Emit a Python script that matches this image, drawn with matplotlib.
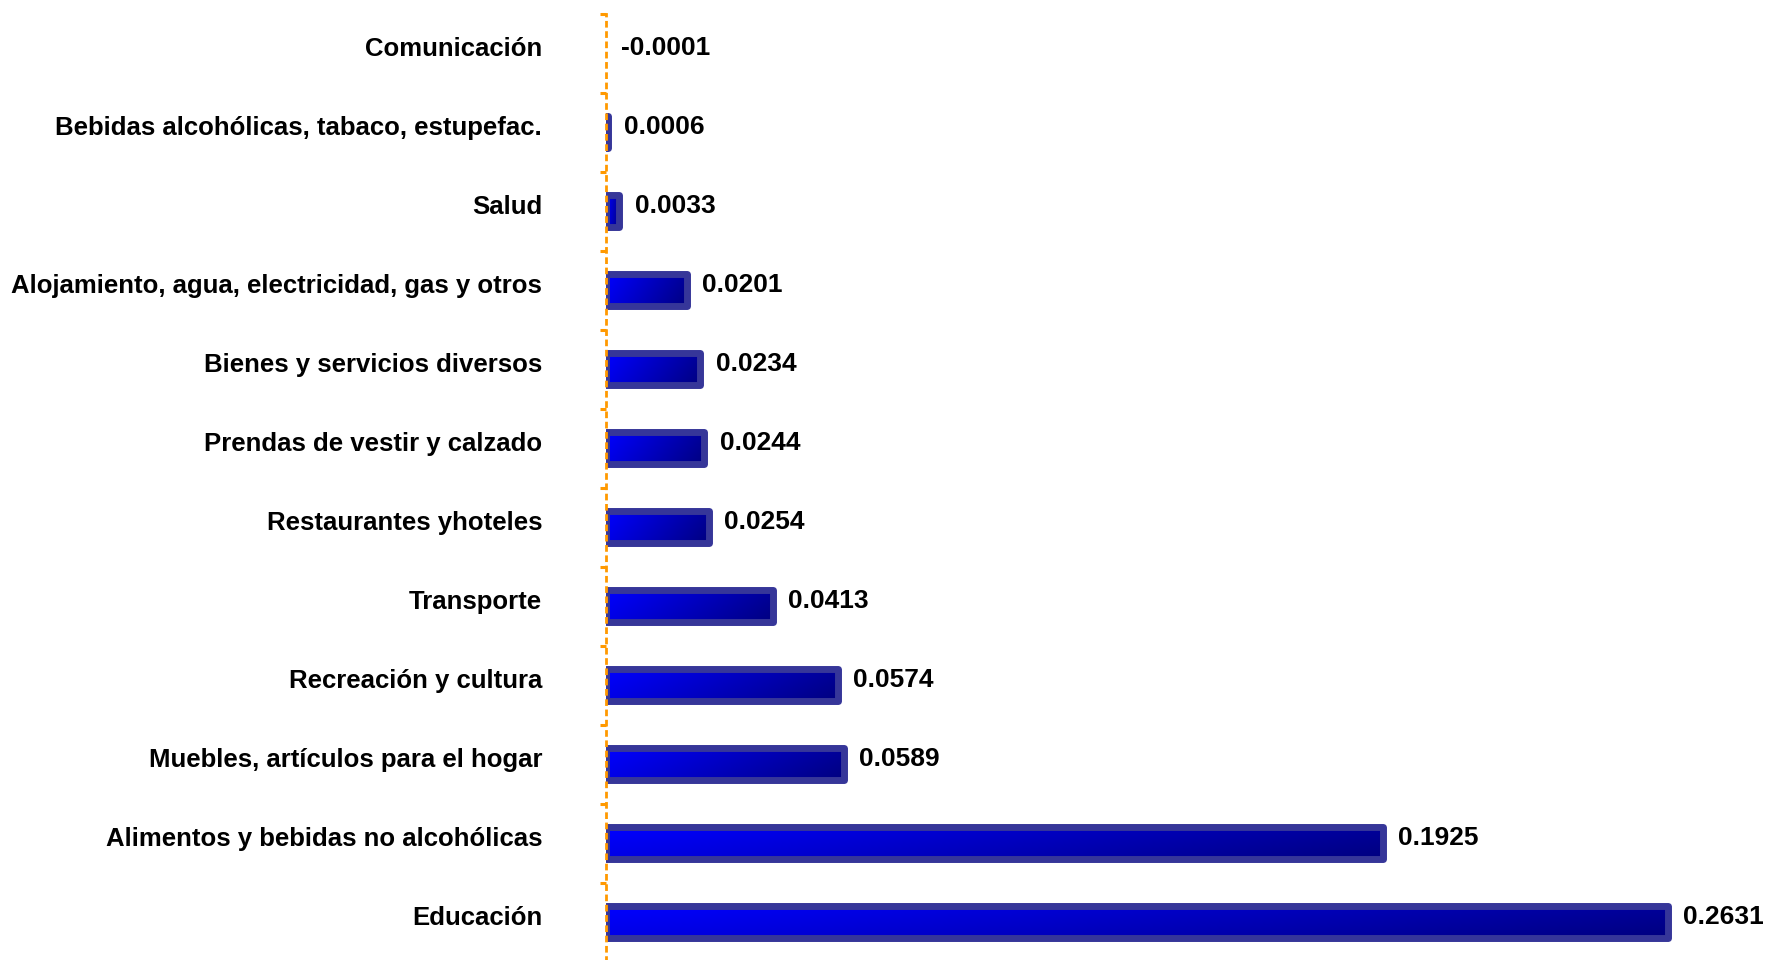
import numpy as np
import matplotlib
matplotlib.use("Agg")
import matplotlib.pyplot as plt
from matplotlib.colors import LinearSegmentedColormap
from matplotlib.transforms import ScaledTranslation

categories = [
    "Comunicación",
    "Bebidas alcohólicas, tabaco, estupefac.",
    "Salud",
    "Alojamiento, agua, electricidad, gas y otros",
    "Bienes y servicios diversos",
    "Prendas de vestir y calzado",
    "Restaurantes yhoteles",
    "Transporte",
    "Recreación y cultura",
    "Muebles, artículos para el hogar",
    "Alimentos y bebidas no alcohólicas",
    "Educación",
]
values = [-0.0001, 0.0006, 0.0033, 0.0201, 0.0234, 0.0244, 0.0254,
          0.0413, 0.0574, 0.0589, 0.1925, 0.2631]
value_labels = ["-0.0001", "0.0006", "0.0033", "0.0201", "0.0234", "0.0244",
                "0.0254", "0.0413", "0.0574", "0.0589", "0.1925", "0.2631"]

FONT = ["Liberation Sans", "DejaVu Sans"]
plt.rcParams["font.family"] = FONT

W, H, DPI = 1777, 960, 100
fig = plt.figure(figsize=(W / DPI, H / DPI), dpi=DPI)
ax = fig.add_axes([606 / W, -1.5 / H, 1 - 606 / W, 948 / H])

orange = "#FF9900"
edge = "#363699"
cmap = LinearSegmentedColormap.from_list("bl", ["#0000FF", "#000080"])

y = np.arange(len(categories))
bar_h = 0.40
lws = [5.0 if v > 0 else 0 for v in values]
bars = ax.barh(y, values, height=bar_h, facecolor="none", edgecolor=edge,
               linewidth=lws, joinstyle="round", zorder=2)

# gradient fill inside each bar
gx = np.linspace(0, 1, 200)
gy = np.linspace(0, 1, 20)
GX, GY = np.meshgrid(gx, gy)
grad = 0.8 * GX + 0.2 * GY
grad = grad / grad.max()
for yi, v in zip(y, values):
    if v <= 0:
        continue
    ax.imshow(grad, cmap=cmap, aspect="auto", interpolation="bilinear",
              extent=[0, v, yi + bar_h / 2, yi - bar_h / 2], zorder=1.5)

# value labels
for yi, v, lab in zip(y, values, value_labels):
    ax.annotate(lab, xy=(max(v, 0), yi), xytext=(11, 3.5),
                textcoords="offset points", ha="left", va="center",
                fontsize=19, fontweight="bold", color="black",
                family=FONT)

ax.set_xlim(0, 1171 / ((1668 - 606) / 0.2631))
ax.set_ylim(len(categories) - 0.5, -0.5)

ax.set_yticks(y)
ax.set_yticklabels(categories, fontsize=18.5, fontweight="bold")
ax.tick_params(axis="y", which="major", length=0, pad=46)
shift = ScaledTranslation(0, 6.5 / 100, fig.dpi_scale_trans)
for t in ax.get_yticklabels():
    t.set_transform(t.get_transform() + shift)
ax.set_yticks(np.arange(-0.5, len(categories), 1.0), minor=True)
ax.tick_params(axis="y", which="minor", length=4, width=2.2, color=orange)
ax.set_xticks([])

for s in ["top", "right", "bottom"]:
    ax.spines[s].set_visible(False)
sp = ax.spines["left"]
sp.set_color(orange)
sp.set_linewidth(2.0)
sp.set_linestyle((0, (1.4, 2.3)))
sp.set_zorder(3)
ax.set_facecolor("white")

fig.savefig("out.png", dpi=DPI, facecolor="white")
